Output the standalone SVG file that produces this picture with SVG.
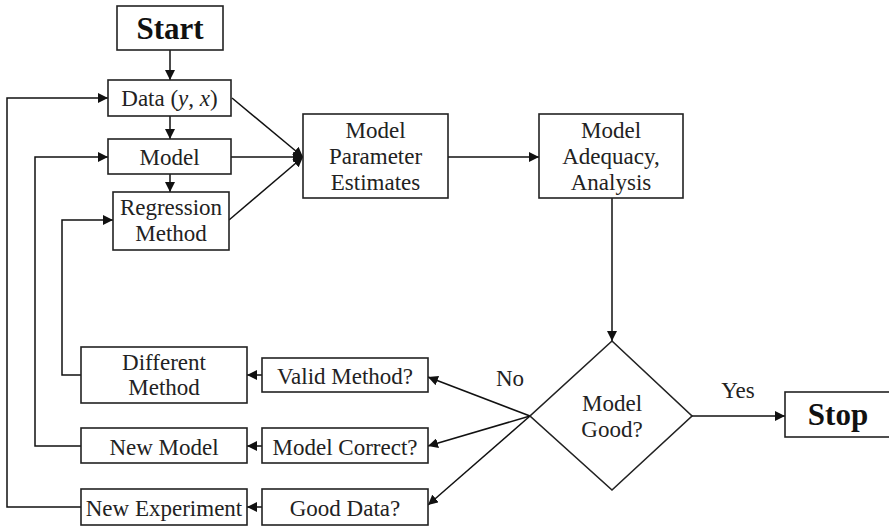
<svg xmlns="http://www.w3.org/2000/svg" width="889" height="527" viewBox="0 0 889 527">
<defs>
<marker id="ah" viewBox="0 0 10 10" refX="10" refY="5" markerWidth="10" markerHeight="10" markerUnits="userSpaceOnUse" orient="auto">
<path d="M0,0 L10,5 L0,10 z" fill="#111"/>
</marker>
</defs>
<style>
.box{fill:#fff;stroke:#222;stroke-width:1.6}
.t{font-family:"Liberation Serif","Times New Roman",serif;font-size:23px;fill:#222;text-anchor:middle}
.b{font-family:"Liberation Serif","Times New Roman",serif;font-size:31px;font-weight:bold;fill:#111;text-anchor:middle}
.c{fill:none;stroke:#111;stroke-width:1.5}
.a{marker-end:url(#ah)}
</style>
<rect width="889" height="527" fill="#fff"/>
<g id="connectors">
<line class="c a" x1="170" y1="50" x2="170" y2="80"/>
<line class="c a" x1="170" y1="116" x2="170" y2="139"/>
<line class="c a" x1="170" y1="174" x2="170" y2="192"/>
<line class="c a" x1="232" y1="98" x2="303" y2="157"/>
<line class="c a" x1="231" y1="157" x2="303" y2="157"/>
<line class="c a" x1="229" y1="220" x2="303" y2="157"/>
<line class="c a" x1="448" y1="157" x2="539" y2="157"/>
<line class="c a" x1="612" y1="198" x2="612" y2="341"/>
<line class="c a" x1="692" y1="416" x2="785" y2="416"/>
<line class="c a" x1="530" y1="416" x2="428" y2="377"/>
<line class="c a" x1="530" y1="416" x2="428" y2="446"/>
<line class="c a" x1="530" y1="416" x2="428" y2="505"/>
<line class="c a" x1="262" y1="375" x2="247" y2="375"/>
<line class="c a" x1="262" y1="446" x2="247" y2="446"/>
<line class="c a" x1="262" y1="507" x2="247" y2="507"/>
<polyline class="c a" points="81,375 62,375 62,220 113,220"/>
<polyline class="c a" points="81,446 35,446 35,157 108,157"/>
<polyline class="c a" points="81,507 7,507 7,98 108,98"/>
</g>
<g id="start"><rect class="box" x="117" y="6" width="106" height="44"/><text class="b" x="170" y="39">Start</text></g>
<g id="data"><rect class="box" x="108" y="80" width="123" height="36"/><text class="t" x="169.5" y="106">Data (<tspan font-style="italic">y</tspan>, <tspan font-style="italic">x</tspan>)</text></g>
<g id="model"><rect class="box" x="108" y="139" width="123" height="35"/><text class="t" x="169.5" y="165">Model</text></g>
<g id="regression"><rect class="box" x="113" y="192" width="116" height="58"/><text class="t" x="171" y="215">Regression</text><text class="t" x="171" y="241">Method</text></g>
<g id="mpe"><rect class="box" x="303" y="114" width="145" height="84"/><text class="t" x="375.5" y="138">Model</text><text class="t" x="375.5" y="164">Parameter</text><text class="t" x="375.5" y="190">Estimates</text></g>
<g id="maa"><rect class="box" x="539" y="114" width="144" height="84"/><text class="t" x="611" y="138">Model</text><text class="t" x="611" y="164">Adequacy,</text><text class="t" x="611" y="190">Analysis</text></g>
<g id="decision"><polygon class="box" points="612,341 692,416 612,490 530,416"/><text class="t" x="612" y="411">Model</text><text class="t" x="612" y="437">Good?</text></g>
<g id="stop"><rect class="box" x="785" y="392" width="110" height="45"/><text class="b" x="838" y="425">Stop</text></g>
<g id="labels"><text class="t" x="510" y="386">No</text><text class="t" x="738" y="398">Yes</text></g>
<g id="different"><rect class="box" x="81" y="347" width="166" height="56"/><text class="t" x="164" y="370">Different</text><text class="t" x="164" y="395">Method</text></g>
<g id="valid"><rect class="box" x="262" y="358" width="166" height="34"/><text class="t" x="345" y="384">Valid Method?</text></g>
<g id="newmodel"><rect class="box" x="81" y="428" width="166" height="35"/><text class="t" x="164" y="455">New Model</text></g>
<g id="correct"><rect class="box" x="262" y="428" width="166" height="35"/><text class="t" x="345" y="455">Model Correct?</text></g>
<g id="newexp"><rect class="box" x="81" y="489" width="166" height="36"/><text class="t" x="164" y="516">New Experiment</text></g>
<g id="gooddata"><rect class="box" x="262" y="489" width="166" height="36"/><text class="t" x="345" y="516">Good Data?</text></g>
</svg>
